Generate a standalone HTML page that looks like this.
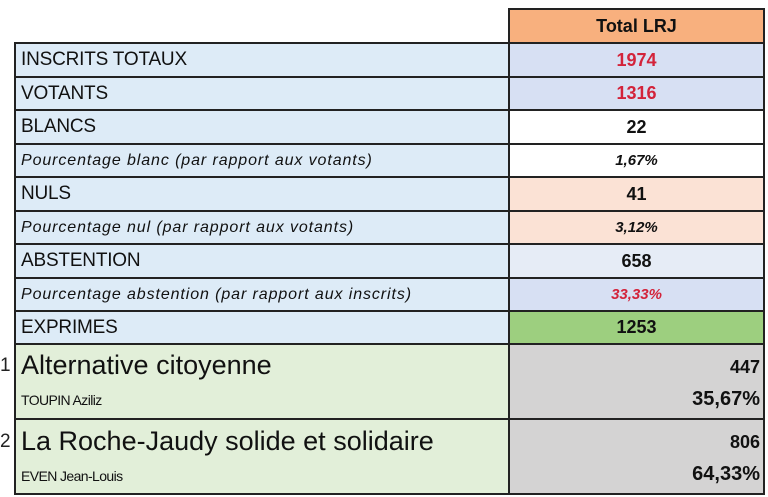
<!DOCTYPE html>
<html><head><meta charset="utf-8"><style>
body{margin:0;width:768px;height:497px;background:#fff;position:relative;overflow:hidden;font-family:"Liberation Sans",sans-serif;}
.c{position:absolute;box-sizing:border-box;border:2px solid #222;display:flex;align-items:center;}
.l{left:14px;width:496px;background:#ddebf7;padding-left:5px;font-size:19px;color:#111;letter-spacing:-0.2px;}
.r{left:508px;width:257px;justify-content:center;font-weight:bold;font-size:18px;color:#111;}
.i{font-style:italic;font-size:16px;letter-spacing:0.9px;}
.red{color:#d3233a;}
</style></head><body>
<div class="c r" style="top:8px;height:36px;background:#f8b07e;">Total LRJ</div>

<div class="c l" style="top:42px;height:36px;">INSCRITS TOTAUX</div>
<div class="c r red" style="top:42px;height:36px;background:#d7e0f3;">1974</div>
<div class="c l" style="top:76px;height:35px;">VOTANTS</div>
<div class="c r red" style="top:76px;height:35px;background:#d7e0f3;">1316</div>
<div class="c l" style="top:109px;height:36px;">BLANCS</div>
<div class="c r" style="top:109px;height:36px;background:#fff;">22</div>
<div class="c l i" style="top:143px;height:35px;">Pourcentage blanc (par rapport aux votants)</div>
<div class="c r i" style="top:143px;height:35px;background:#fff;font-size:15px;letter-spacing:0;">1,67%</div>
<div class="c l" style="top:176px;height:36px;">NULS</div>
<div class="c r" style="top:176px;height:36px;background:#fbe2d5;">41</div>
<div class="c l i" style="top:210px;height:35px;">Pourcentage nul (par rapport aux votants)</div>
<div class="c r i" style="top:210px;height:35px;background:#fbe2d5;font-size:15px;letter-spacing:0;">3,12%</div>
<div class="c l" style="top:243px;height:36px;">ABSTENTION</div>
<div class="c r" style="top:243px;height:36px;background:#e6ecf6;">658</div>
<div class="c l i" style="top:277px;height:35px;">Pourcentage abstention (par rapport aux inscrits)</div>
<div class="c r i red" style="top:277px;height:35px;background:#d7e0f3;font-size:15px;letter-spacing:0;">33,33%</div>
<div class="c l" style="top:310px;height:35px;">EXPRIMES</div>
<div class="c r" style="top:310px;height:35px;background:#9dcf7f;">1253</div>

<div style="position:absolute;left:0;top:355px;font-size:19px;color:#222;">1</div>
<div class="c" style="left:14px;top:343px;width:496px;height:77px;background:#e2efd9;display:block;padding-left:5px;">
<div style="font-size:27px;margin-top:5px;color:#111;">Alternative citoyenne</div>
<div style="font-size:14px;margin-top:11px;color:#111;letter-spacing:-0.6px;">TOUPIN Aziliz</div></div>
<div class="c" style="left:508px;top:343px;width:257px;height:77px;background:#d4d3d3;display:block;text-align:right;padding-right:3px;font-weight:bold;color:#111;">
<div style="font-size:18px;margin-top:12px;">447</div>
<div style="font-size:20px;margin-top:10px;">35,67%</div></div>

<div style="position:absolute;left:0;top:431px;font-size:19px;color:#222;">2</div>
<div class="c" style="left:14px;top:418px;width:496px;height:77px;background:#e2efd9;display:block;padding-left:5px;">
<div style="font-size:27px;margin-top:6px;color:#111;">La Roche-Jaudy solide et solidaire</div>
<div style="font-size:14px;margin-top:11px;color:#111;letter-spacing:-0.6px;">EVEN Jean-Louis</div></div>
<div class="c" style="left:508px;top:418px;width:257px;height:77px;background:#d4d3d3;display:block;text-align:right;padding-right:3px;font-weight:bold;color:#111;">
<div style="font-size:18px;margin-top:12px;">806</div>
<div style="font-size:20px;margin-top:10px;">64,33%</div></div>
</body></html>
